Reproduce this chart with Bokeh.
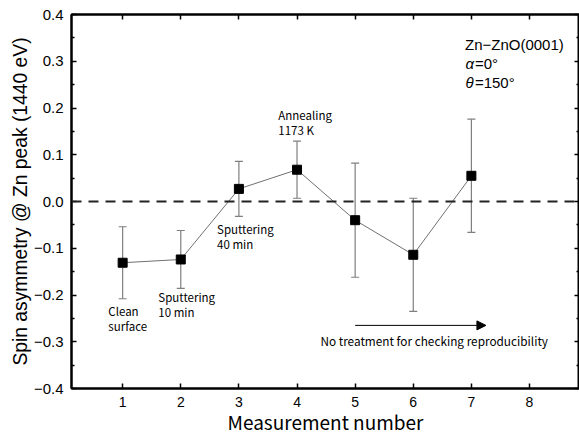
from bokeh.plotting import figure
from bokeh.models import (ColumnDataSource, Whisker, TeeHead, Span, Label, Arrow,
                          NormalHead, FixedTicker, LinearAxis, CustomJSTickFormatter, Range1d)
from bokeh.embed import file_html
from bokeh.resources import INLINE

# ---- data ----
measurement = [1, 2, 3, 4, 5, 6, 7]
asymmetry = [-0.131, -0.124, 0.027, 0.068, -0.040, -0.114, 0.055]
error = [0.077, 0.062, 0.059, 0.061, 0.122, 0.121, 0.121]
x_ticks = [1, 2, 3, 4, 5, 6, 7, 8]
y_ticks = [-0.4, -0.3, -0.2, -0.1, 0.0, 0.1, 0.2, 0.3, 0.4]
y_minor = [-0.35, -0.25, -0.15, -0.05, 0.05, 0.15, 0.25, 0.35]
step_labels = [["Clean", "surface"], ["Sputtering", "10 min"],
               ["Sputtering", "40 min"], ["Annealing", "1173 K"]]
arrow_text = "No treatment for checking reproducibility"

lower = [a - e for a, e in zip(asymmetry, error)]
upper = [a + e for a, e in zip(asymmetry, error)]
src = ColumnDataSource(dict(x=measurement, y=asymmetry, lower=lower, upper=upper))

p = figure(width=579, height=438, output_backend="svg", toolbar_location=None,
           x_range=Range1d(0.12, 8.86), y_range=Range1d(-0.4, 0.4),
           min_border_left=71, min_border_right=0, min_border_top=14, min_border_bottom=50)
p.outline_line_color = "black"
p.outline_line_width = 2
p.outline_line_alpha = 1.0
p.xgrid.visible = False
p.ygrid.visible = False
p.background_fill_color = "white"
p.border_fill_color = "white"

TICK_FONT = "Liberation Sans"
CJK = "Noto Sans CJK JP"

fmt = CustomJSTickFormatter(code="return tick.toFixed(1).replace('-', '\u2212');")

def style(ax, labels=True):
    ax.axis_line_width = 2
    ax.axis_line_color = "black"
    ax.major_tick_in = 5
    ax.major_tick_out = 0
    ax.minor_tick_in = 3
    ax.minor_tick_out = 0
    ax.major_tick_line_width = 1.5
    ax.minor_tick_line_width = 1.5
    ax.major_tick_line_color = "black"
    ax.minor_tick_line_color = "black"
    if not labels:
        ax.major_label_text_font_size = "0px"
        ax.major_label_standoff = 0

# bottom axis
xa = p.xaxis[0]
xa.ticker = FixedTicker(ticks=x_ticks)
style(xa)
xa.major_label_text_font = TICK_FONT
xa.major_label_text_font_size = "14px"
xa.major_label_text_color = "black"
xa.major_label_standoff = 8
xa.axis_label = "Measurement number"
xa.axis_label_text_font = CJK
xa.axis_label_text_font_size = "19px"
xa.axis_label_text_font_style = "normal"
xa.axis_label_text_color = "black"
xa.axis_label_standoff = -2

# left axis
ya = p.yaxis[0]
ya.ticker = FixedTicker(ticks=y_ticks, minor_ticks=y_minor)
ya.formatter = fmt
style(ya)
ya.major_label_text_font = TICK_FONT
ya.major_label_text_font_size = "15px"
ya.major_label_text_color = "black"
ya.major_label_standoff = 8
ya.axis_label = "Spin asymmetry @ Zn peak (1440 eV)"
ya.axis_label_text_font = TICK_FONT
ya.axis_label_text_font_size = "19.3px"
ya.axis_label_text_font_style = "normal"
ya.axis_label_text_color = "black"
ya.axis_label_standoff = 0

# top axis
ta = LinearAxis(ticker=FixedTicker(ticks=x_ticks))
style(ta, labels=False)
ta.major_label_text_color = None
p.add_layout(ta, "above")

# right axis (frame edge at window edge, line hidden)
ra = LinearAxis(ticker=FixedTicker(ticks=y_ticks, minor_ticks=y_minor))
style(ra, labels=False)
ra.axis_line_color = None
ra.major_label_text_color = None
p.add_layout(ra, "right")

# zero line
p.add_layout(Span(location=0, dimension="width", line_color="#222222",
                  line_width=2, line_dash="10 7"))

# error bars
p.add_layout(Whisker(source=src, base="x", lower="lower", upper="upper",
                     line_color="#7f7f7f", line_width=1.2,
                     upper_head=TeeHead(size=8, line_color="#7f7f7f", line_width=1.2),
                     lower_head=TeeHead(size=8, line_color="#7f7f7f", line_width=1.2)))

# connecting line and markers
p.line("x", "y", source=src, line_color="#707070", line_width=1)
p.scatter("x", "y", source=src, marker="square", size=9, fill_color="black", line_color="black")

# step annotations (one label per line, 15 px line pitch)
ann_pos = [(0.754, -0.234), (1.614, -0.204), (2.624, -0.059), (3.678, 0.185)]
for (ax_, ay_), lines in zip(ann_pos, step_labels):
    for i, line in enumerate(lines):
        p.add_layout(Label(x=ax_, y=ay_, y_offset=-15 * i, text=line, text_font=CJK,
                           text_font_size="11.5px", text_color="black",
                           text_baseline="middle", text_align="left"))

# arrow
p.add_layout(Arrow(x_start=5, y_start=-0.265, x_end=7.25, y_end=-0.265,
                   line_color="black", line_width=1,
                   end=NormalHead(size=9, fill_color="black", line_color="black", line_width=1)))
p.add_layout(Label(x=6.36, y=-0.297, text=arrow_text, text_font=CJK, text_font_size="11.8px",
                   text_color="black", text_align="center", text_baseline="middle"))

# sample info
p.add_layout(Label(x=6.89, y=0.336, text="Zn\u2212ZnO(0001)", text_font=TICK_FONT,
                   text_font_size="15px", text_color="black", text_baseline="middle"))
p.add_layout(Label(x=6.9, y=0.295, text="\u03b1", text_font=TICK_FONT, text_font_style="italic",
                   text_font_size="15px", text_color="black", text_baseline="middle"))
p.add_layout(Label(x=7.06, y=0.295, text="=0\u00b0", text_font=TICK_FONT,
                   text_font_size="15px", text_color="black", text_baseline="middle"))
p.add_layout(Label(x=6.9, y=0.255, text="\u03b8", text_font=TICK_FONT, text_font_style="italic",
                   text_font_size="15px", text_color="black", text_baseline="middle"))
p.add_layout(Label(x=7.06, y=0.255, text="=150\u00b0", text_font=TICK_FONT,
                   text_font_size="15px", text_color="black", text_baseline="middle"))

open("out.html", "w").write(file_html(p, INLINE))
